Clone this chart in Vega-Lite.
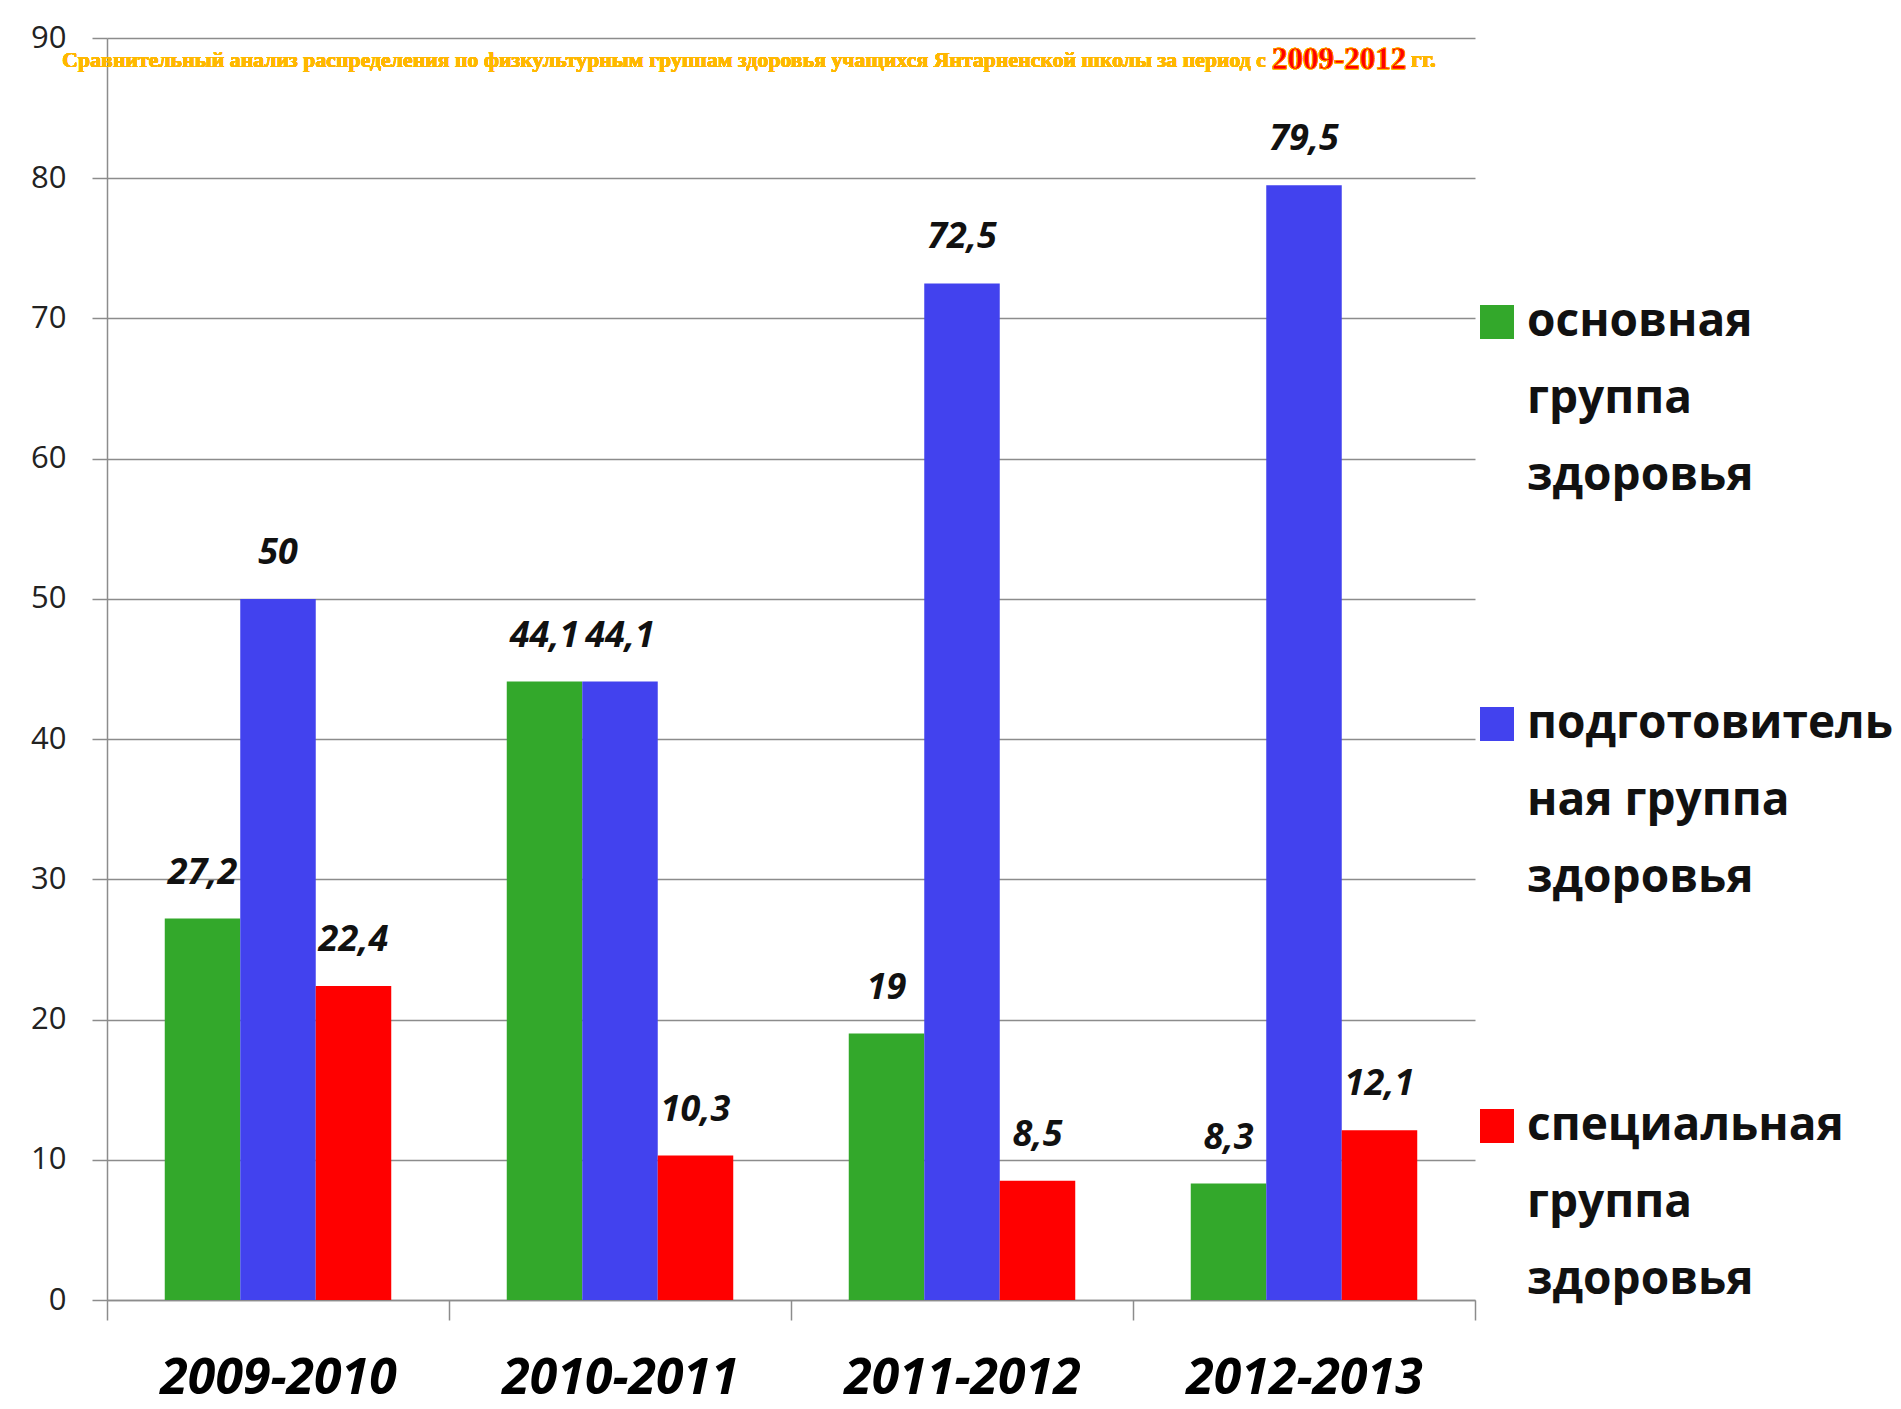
{
  "$schema": "https://vega.github.io/schema/vega-lite/v6.json",
  "width": 1368,
  "height": 1262,
  "autosize": {"type": "none"},
  "padding": {"left": 107, "top": 38, "right": 426, "bottom": 109},
  "background": "white",
  "config": {
    "view": {"stroke": null},
    "locale": {"number": {"decimal": ",", "thousands": " ", "grouping": [3], "currency": ["", ""]}},
    "style": {"guide-label": {"lineHeight": 77}}
  },
  "data": {
    "values": [
      {"year": "2009-2010", "group": "основная группа здоровья", "value": 27.2},
      {"year": "2009-2010", "group": "подготовительная группа здоровья", "value": 50},
      {"year": "2009-2010", "group": "специальная группа здоровья", "value": 22.4},
      {"year": "2010-2011", "group": "основная группа здоровья", "value": 44.1},
      {"year": "2010-2011", "group": "подготовительная группа здоровья", "value": 44.1},
      {"year": "2010-2011", "group": "специальная группа здоровья", "value": 10.3},
      {"year": "2011-2012", "group": "основная группа здоровья", "value": 19},
      {"year": "2011-2012", "group": "подготовительная группа здоровья", "value": 72.5},
      {"year": "2011-2012", "group": "специальная группа здоровья", "value": 8.5},
      {"year": "2012-2013", "group": "основная группа здоровья", "value": 8.3},
      {"year": "2012-2013", "group": "подготовительная группа здоровья", "value": 79.5},
      {"year": "2012-2013", "group": "специальная группа здоровья", "value": 12.1}
    ]
  },
  "layer": [
    {
      "mark": {"type": "bar"},
      "encoding": {
        "x": {
          "field": "year", "type": "nominal",
          "scale": {"paddingInner": 0, "paddingOuter": 0},
          "axis": {
            "title": null, "tickBand": "extent", "labelAngle": 0, "grid": false,
            "domainColor": "#8c8c8c", "domainWidth": 1.5,
            "tickColor": "#8c8c8c", "tickSize": 20, "tickWidth": 1.5,
            "labelFont": "Open Sans", "labelFontSize": 50, "labelFontWeight": "bold", "labelFontStyle": "italic",
            "labelColor": "#000000", "labelBaseline": "middle", "labelPadding": 58, "labelLimit": 500
          }
        },
        "xOffset": {
          "field": "group", "type": "nominal",
          "sort": ["основная группа здоровья", "подготовительная группа здоровья", "специальная группа здоровья"],
          "scale": {"paddingInner": 0, "paddingOuter": 0.765}
        },
        "y": {
          "field": "value", "type": "quantitative",
          "scale": {"domain": [0, 90], "nice": false},
          "axis": {
            "title": null, "values": [0, 10, 20, 30, 40, 50, 60, 70, 80, 90],
            "grid": true, "gridColor": "#8c8c8c", "gridWidth": 1.5,
            "domainColor": "#8c8c8c", "domainWidth": 1.5,
            "tickColor": "#8c8c8c", "tickSize": 15, "tickWidth": 1.5,
            "labelFont": "Open Sans", "labelFontSize": 31, "labelColor": "#222222", "labelPadding": 26
          }
        },
        "color": {
          "field": "group", "type": "nominal",
          "scale": {
            "domain": ["основная группа здоровья", "подготовительная группа здоровья", "специальная группа здоровья"],
            "range": ["#33a82b", "#4242ee", "#ff0000"]
          },
          "legend": {
            "title": null, "orient": "none", "legendX": 1367, "legendY": 261, "padding": 0,
            "symbolType": "square", "symbolSize": 1156, "symbolStrokeWidth": 0,
            "labelFont": "Open Sans", "labelFontSize": 46, "labelFontWeight": "bold", "labelColor": "#111111",
            "labelLimit": 600, "labelOffset": 7, "rowPadding": 202,
            "labelExpr": "datum.label == 'подготовительная группа здоровья' ? ['подготовитель', 'ная группа', 'здоровья'] : split(datum.label, ' ')",
            "encoding": {"labels": {"update": {"lineHeight": {"value": 77}}}}
          }
        }
      }
    },
    {
      "mark": {"type": "text", "font": "Open Sans", "fontSize": 36, "fontWeight": "bold", "fontStyle": "italic", "color": "#111111", "baseline": "middle", "dy": -46},
      "encoding": {
        "x": {"field": "year", "type": "nominal"},
        "xOffset": {"field": "group", "type": "nominal", "sort": ["основная группа здоровья", "подготовительная группа здоровья", "специальная группа здоровья"]},
        "y": {"field": "value", "type": "quantitative"},
        "text": {"field": "value", "type": "quantitative", "format": ".1~f"}
      }
    },
    {
      "mark": {"type": "text", "align": "right", "baseline": "middle", "dx": -38, "font": "Liberation Serif", "fontSize": 21.8, "fontWeight": "bold", "fill": "#FFB800"},
      "encoding": {
        "x": {"datum": "2012-2013", "type": "nominal"},
        "y": {"datum": 88.4, "type": "quantitative"},
        "text": {"value": "Сравнительный анализ распределения  по физкультурным группам здоровья учащихся Янтарненской школы за период с"}
      }
    },
    {
      "mark": {"type": "text", "align": "left", "baseline": "middle", "dx": -32, "font": "Liberation Serif", "fontSize": 31, "fontWeight": "bold", "fill": "#FF0000", "stroke": "#FFC000", "strokeWidth": 0.5},
      "encoding": {
        "x": {"datum": "2012-2013", "type": "nominal"},
        "y": {"datum": 88.4, "type": "quantitative"},
        "text": {"value": "2009-2012"}
      }
    },
    {
      "mark": {"type": "text", "align": "left", "baseline": "middle", "dx": 107, "font": "Liberation Serif", "fontSize": 24, "fontWeight": "bold", "fill": "#FFB800"},
      "encoding": {
        "x": {"datum": "2012-2013", "type": "nominal"},
        "y": {"datum": 88.4, "type": "quantitative"},
        "text": {"value": "гг."}
      }
    }
  ]
}
